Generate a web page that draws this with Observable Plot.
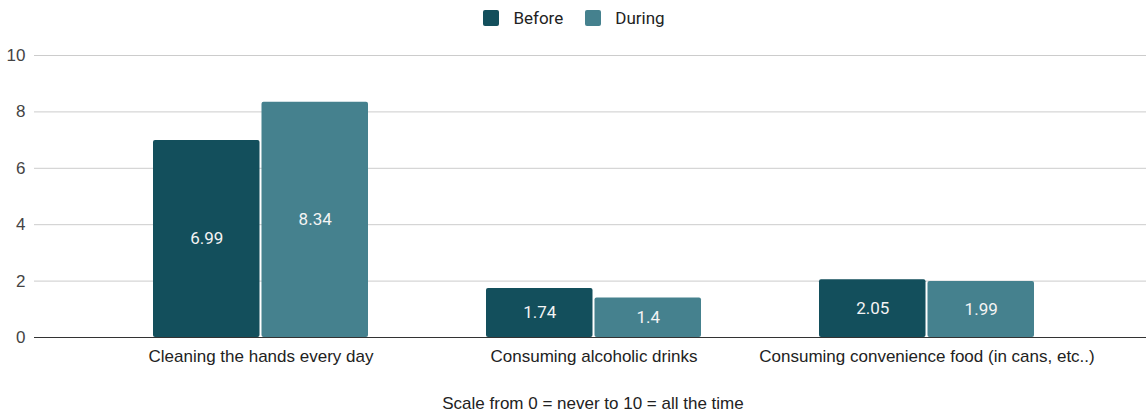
<!DOCTYPE html>
<html>
<head>
<meta charset="utf-8">
<script src="https://cdn.jsdelivr.net/npm/d3@7"></script>
<script src="https://cdn.jsdelivr.net/npm/@observablehq/plot@0.6"></script>
<style>
  html, body { margin: 0; padding: 0; background: #fff; overflow: hidden; }
  body { width: 1146px; font-family: "Liberation Sans", Arial, sans-serif; }
  #legend { height: 36px; display: flex; justify-content: center; align-items: center; padding-left: 2px;
            font-family: Roboto, "Liberation Sans", sans-serif; font-size: 17px; color: #222; }
  .item { display: flex; align-items: center; margin: 0 11px; }
  .swatch { width: 16px; height: 16px; border-radius: 2px; margin-right: 14px; }
  #caption { height: 35px; line-height: 48px; text-align: center; padding-left: 40px;
             font-size: 17px; color: #222; }
</style>
</head>
<body>
<div id="legend"></div>
<div id="chart"></div>
<div id="caption"></div>
<script>
// Average scores per behaviour, before and during the period
const categories = [
  "Cleaning the hands every day",
  "Consuming alcoholic drinks",
  "Consuming convenience food (in cans, etc..)"
];
const series = ["Before", "During"];
const beforeValues = [6.99, 1.74, 2.05];
const duringValues = [8.34, 1.4, 1.99];
const seriesColors = ["#134f5c", "#45818e"];
const yTicks = [0, 2, 4, 6, 8, 10];
const captionText = "Scale from 0 = never to 10 = all the time";

const rows = categories.flatMap((category, i) => [
  {category, series: series[0], value: beforeValues[i]},
  {category, series: series[1], value: duringValues[i]}
]);
const beforeRows = rows.filter(d => d.series === series[0]);
const duringRows = rows.filter(d => d.series === series[1]);

// Legend above the chart
const legend = document.getElementById("legend");
series.forEach((name, i) => {
  const item = document.createElement("div");
  item.className = "item";
  const sw = document.createElement("div");
  sw.className = "swatch";
  sw.style.background = seriesColors[i];
  const label = document.createElement("span");
  label.textContent = name;
  item.append(sw, label);
  legend.append(item);
});

// Each category band holds a pair of bars split down the middle with a 2px gap
const halfBand = 108.5;   // half the band width plus half the gap
const barOffset = 54.2;   // from band centre to each bar's centre

const labelOpts = {
  x: "category", y: d => d.value / 2,
  text: d => String(d.value), fill: "#f4f4f4",
  fontSize: 17, fontFamily: "Roboto, sans-serif"
};

const chart = Plot.plot({
  width: 1146,
  height: 344,
  marginTop: 19,
  marginBottom: 43,
  marginLeft: 34,
  marginRight: -7,
  style: {fontFamily: '"Liberation Sans", Arial, sans-serif', fontSize: "17px", color: "#444", background: "transparent"},
  x: {domain: categories, padding: 0.355, label: null, tickSize: 0, tickPadding: 12},
  y: {domain: [0, 10], ticks: yTicks, label: null, tickSize: 0, tickPadding: 9},
  color: {domain: series, range: seriesColors},
  marks: [
    Plot.ruleY(yTicks.filter(t => t > 0), {stroke: "#cccccc", strokeWidth: 1}),
    Plot.barY(beforeRows, {x: "category", y: "value", fill: "series", insetRight: halfBand, rx: 2}),
    Plot.barY(duringRows, {x: "category", y: "value", fill: "series", insetLeft: halfBand, rx: 2}),
    Plot.text(beforeRows, {...labelOpts, dx: -barOffset}),
    Plot.text(duringRows, {...labelOpts, dx: barOffset}),
    Plot.ruleY([0], {stroke: "#333", strokeWidth: 1})
  ]
});
chart.querySelectorAll("g[aria-label='x-axis tick label'] text").forEach(t => t.setAttribute("fill", "#222"));
document.getElementById("chart").append(chart);

document.getElementById("caption").textContent = captionText;
</script>
</body>
</html>
